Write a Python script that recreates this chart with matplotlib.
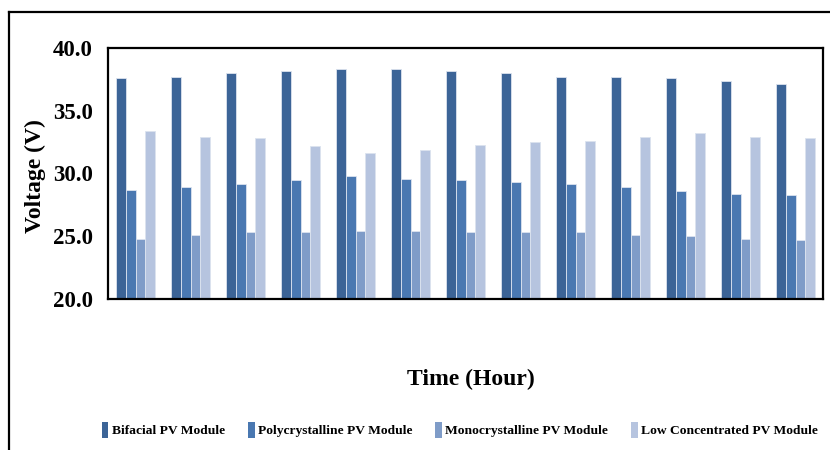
import matplotlib
matplotlib.use("Agg")
import matplotlib.pyplot as plt
import numpy as np
from matplotlib.lines import Line2D
from matplotlib.patches import Patch

plt.rcParams["font.family"] = ["Liberation Serif", "DejaVu Serif"]
plt.rcParams["font.weight"] = "bold"

# Voltage readings per hour slot (13 slots, no tick labels in the source)
bifacial = [37.6, 37.7, 38.0, 38.2, 38.3, 38.3, 38.2, 38.0, 37.7, 37.7, 37.6, 37.4, 37.1]
poly = [28.7, 28.9, 29.2, 29.5, 29.8, 29.6, 29.5, 29.3, 29.2, 28.9, 28.6, 28.4, 28.3]
mono = [24.8, 25.1, 25.3, 25.3, 25.4, 25.4, 25.3, 25.3, 25.3, 25.1, 25.0, 24.8, 24.7]
low_conc = [33.4, 32.9, 32.8, 32.2, 31.6, 31.9, 32.3, 32.5, 32.6, 32.9, 33.2, 32.9, 32.8]

series = [
    ("Bifacial PV Module", bifacial, "#3C6497"),
    ("Polycrystalline PV Module", poly, "#4A78B1"),
    ("Monocrystalline PV Module", mono, "#7F9CC8"),
    ("Low Concentrated PV Module", low_conc, "#B6C4DF"),
]
y_ticks = [20.0, 25.0, 30.0, 35.0, 40.0]

fig = plt.figure(figsize=(8.3, 4.5), dpi=100)
ax = fig.add_axes([108 / 830, 1 - 299 / 450, 715 / 830, 251 / 450])

x = np.arange(len(bifacial))
w = 0.179
for i, (label, vals, col) in enumerate(series):
    ax.bar(x + (i - 1.5) * w, np.array(vals) - 20.0, bottom=20.0, width=w,
           color=col, edgecolor="#DCE3EF", linewidth=0.6, label=label)

ax.set_xlim(-0.5, len(bifacial) - 0.5)
ax.set_ylim(20, 40)
ax.set_xticks([])
ax.set_yticks(y_ticks)
ax.set_yticklabels([f"{v:.1f}" for v in y_ticks], fontsize=16.5, fontweight="bold")
ax.tick_params(axis="y", length=0, pad=11)
for s in ax.spines.values():
    s.set_linewidth(1.6)
    s.set_color("black")

ax.set_ylabel("Voltage (V)", fontsize=17, fontweight="bold")
ax.yaxis.set_label_coords(-0.087, 0.49)
fig.text(471 / 830, 1 - 379 / 450, "Time (Hour)", fontsize=17,
         fontweight="bold", ha="center", va="center")

handles = [Patch(facecolor=c, edgecolor="none") for _, _, c in series]
fig.legend(handles, [s[0] for s in series], loc="center",
           bbox_to_anchor=(460 / 830, 1 - 430 / 450), ncol=4, frameon=False,
           prop={"size": 9.7, "weight": "bold"}, handlelength=0.5,
           handleheight=1.4, handletextpad=0.25, columnspacing=1.7)

# outer chart frame (runs off the right and bottom of the image)
fig.add_artist(Line2D([9 / 830, 1.0], [1 - 11.5 / 450] * 2, color="black", lw=1.6))
fig.add_artist(Line2D([9 / 830] * 2, [0.0, 1 - 11.5 / 450], color="black", lw=1.6))

fig.savefig("out.png", dpi=100)
